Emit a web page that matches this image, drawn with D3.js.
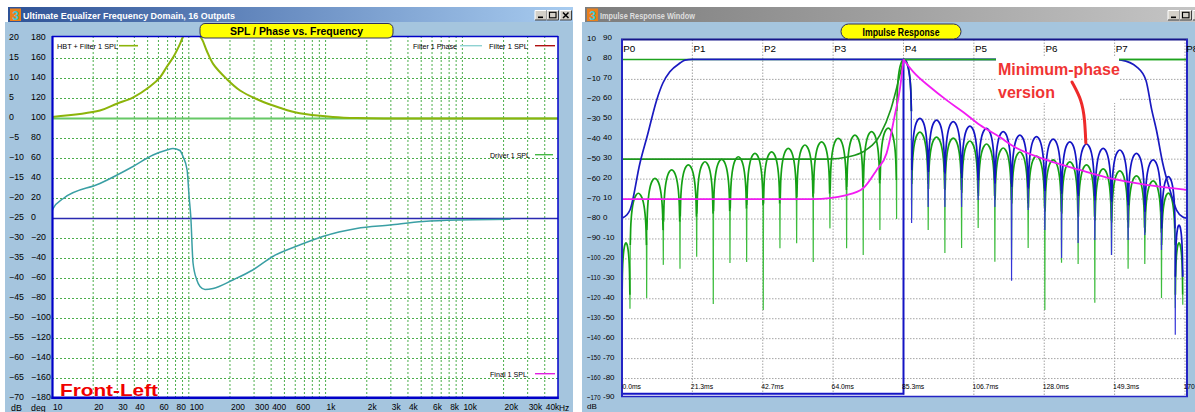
<!DOCTYPE html>
<html>
<head>
<meta charset="utf-8">
<title>SPL / Phase vs. Frequency and Impulse Response</title>
<script src="https://cdnjs.cloudflare.com/ajax/libs/d3/7.8.5/d3.min.js"></script>
<style>
  body { margin: 0; background: #ffffff; }
  svg { display: block; font-family: "Liberation Sans", Arial, sans-serif; }
</style>
</head>
<body>
<script>
// ---------- left window: SPL / Phase vs. Frequency ----------
var freqTickValues = [10, 20, 30, 40, 60, 80, 100, 200, 300, 400, 600, 1000, 2000, 3000, 4000, 6000, 8000, 10000, 20000, 30000, 40000];
var freqTickLabels = ["10", "20", "30", "40", "60", "80", "100", "200", "300", "400", "600", "1k", "2k", "3k", "4k", "6k", "8k", "10k", "20k", "30k", "40k"];
var dbTicks  = [20, 15, 10, 5, 0, -5, -10, -15, -20, -25, -30, -35, -40, -45, -50, -55, -60, -65, -70];
var degTicks = [180, 160, 140, 120, 100, 80, 60, 40, 20, 0, -20, -40, -60, -80, -100, -120, -140, -160, -180];

// HBT + Filter 1 SPL (dB)
var hbtFreq = [10, 22.4, 29.7, 39.3, 52, 61.6, 68.7, 76.9, 86.1, 91, 100, 110, 124, 135, 151, 189, 237, 331, 462, 647, 1130, 1700, 3000, 50000];
var hbtDb   = [0.4, 2.0, 3.7, 5.3, 8.0, 10.3, 12.8, 15.3, 18.6, 20.5, 22.5, 22.0, 20.0, 17.0, 13.6, 9.9, 7.0, 4.5, 2.7, 1.3, 0.4, 0.1, 0, 0];

// Filter 1 Phase (deg)
var phaseFreq = [10, 10.2, 12.1, 22.4, 39.1, 54.8, 69.1, 76.6, 86.1, 90.7, 97.2, 100.5, 103.4, 107.4, 114.5, 120.8, 131.4, 150.6, 209.7, 293.5, 410.8, 647, 953, 1684, 2954, 5167, 9134, 22500];
var phaseDeg  = [7, 10, 20, 35, 52, 63.5, 68.5, 70, 68, 62, 48.5, 22, 2, -44.5, -61.5, -68, -71, -70, -61.5, -51.5, -38, -26.5, -18, -10, -6.5, -3, -1.5, -0.8];

var driverDb = 0;     // Driver 1 SPL, flat
var zeroPhase = 0;

var legendNames  = ["HBT + Filter 1 SPL", "Filter 1 Phase", "Filter 1 SPL", "Driver 1 SPL", "Final 1 SPL"];
var legendColors = ["#8cb40a", "#8fd2d2", "#b01010", "#44b844", "#e020e0"];

// ---------- right window: Impulse Response ----------
var timeTicks = [0, 21.333, 42.667, 64, 85.333, 106.667, 128, 149.333, 170.667];
var markerNames = ["P0", "P1", "P2", "P3", "P4", "P5", "P6", "P7", "P8"];
var irDbTicks  = [10, 0, -10, -20, -30, -40, -50, -60, -70, -80, -90, -100, -110, -120, -130, -140, -150, -160, -170];
var irDb2Ticks = [90, 80, 70, 60, 50, 40, 30, 20, 10, 0, -10, -20, -30, -40, -50, -60, -70, -80, -90];

var peakMs = 85.333;

// window (blue)
var windowMs = [0, 1.42, 2.42, 5.45, 7.73, 10.5, 12.4, 14.5, 17.6, 19.1, 21.3, 149.3, 151.4, 156.0, 158.8, 160.6, 162.0, 163.9, 166.1, 168.1, 170.0, 171.2];
var windowDb = [-79.6, -78, -75.5, -51.9, -37.9, -20.4, -11.8, -6.2, -1.8, -0.3, 0, 0, -0.3, -3.7, -10.3, -25.4, -35.4, -51.9, -65.5, -75.5, -79, -79.6];

// ringing nulls (ms)
var nullMsPre  = [0, 2.42, 7.48, 12.52, 17.58, 22.64, 27.67, 32.73, 37.79, 42.82, 47.88, 52.94, 57.97, 63.03, 68.09, 73.12, 78.18, 83.24];
var nullMsPost = [87.79, 92.82, 97.88, 102.94, 107.97, 113.03, 118.09, 123.12, 128.18, 133.24, 138.27, 143.33, 148.39, 153.42, 158.48, 163.54, 167.72, 170.0];

// linear-phase impulse (green): lobe peaks and null depths
var greenPeakDb = [-92, -67.1, -59.6, -55.4, -52.9, -51.3, -50.1, -48.8, -47.1, -46.3, -44.6, -42.9, -41.3, -39.5, -37.9, -36.2, -34.4,
                   0,
                   -36.4, -38.9, -39.4, -40.9, -42.4, -44.4, -46.4, -48.4, -50.4, -51.4, -52.9, -54.9, -55.9, -58.4, -60.9, -67, -92];
var greenNullDb = [-172, -125, -119.6, -103, -105, -98.9, -122.6, -102, -101.6, -125.6, -94.7, -92.2, -101.6, -84.7, -94.7, -98, -85.5, -80,
                   -80, -85.5, -97, -94.5, -84.5, -101.4, -100, -94.5, -125.6, -101.9, -102.6, -122, -98, -105, -102.6, -119.6, -124.6, -123];

// minimum-phase impulse (blue): lobe peaks and null depths after P4
var bluePeakDb = [-29.5, -30.4, -31.2, -33.4, -34.5, -36.2, -37.9, -38.7, -40, -41.3, -42.4, -44.6, -45.4, -47.1, -50.4, -58.8, -83];
var blueNullDb = [-82, -74, -74, -74, -70.5, -74, -111, -75.5, -85.5, -99.6, -92, -90.5, -98, -90.5, -88, -95.5, -138, -105.6];
var bluePreDb = -167.6;

// envelopes
var envMs = [0, 62.6, 68.7, 73.1, 78.2, 81.5, 83.6, 85.333];
var envDb = [-50, -50, -48.8, -46.3, -37.9, -25, -12, 0];
var minPreMs = [0, 57.9, 68.1, 73.1, 77.2, 80.2, 82.7, 84.2, 85.333];
var minPreDb = [-70, -70, -68, -64.6, -55.4, -47.1, -27.9, -15.3, 0];
var minPostMs = [85.333, 88.3, 93.3, 98.4, 103.3, 108.5, 114.5, 118.5, 128.7, 138.8, 148.8, 159, 171.2];
var minPostDb = [0, -6.2, -13.7, -20.4, -26.2, -32.9, -38.9, -43.4, -50.4, -55.4, -59.9, -62.9, -65.4];

var noteLines = ["Minimum-phase", "version"];
var arrowMs = [136.4, 139.4, 140.3, 140.6];
var arrowDb = [-11.3, -20.4, -30.4, -41.9];

// ---------- drawing ----------
var W = 1195, H = 412;
var CLIENT = "#a5c5de";
var svg = d3.select("body").append("svg").attr("width", W).attr("height", H);
var defs = svg.append("defs");

function hGradient(id, from, to) {
  var g = defs.append("linearGradient").attr("id", id)
    .attr("x1", 0).attr("x2", 1).attr("y1", 0).attr("y2", 0);
  g.append("stop").attr("offset", 0).attr("stop-color", from);
  g.append("stop").attr("offset", 1).attr("stop-color", to);
}
hGradient("titleActive", "#2e5296", "#a8ccf0");
hGradient("titleInactive", "#7c7c7c", "#c6c6c6");

function clipRect(id, x, y, w, h) {
  defs.append("clipPath").attr("id", id).append("rect")
    .attr("x", x).attr("y", y).attr("width", w).attr("height", h);
}

function drawWindow(x0, x1, title, active, titleWidth) {
  svg.append("rect").attr("x", x0 - 3).attr("y", 22).attr("width", x1 - x0 + 3).attr("height", H - 22).attr("fill", CLIENT);
  svg.append("rect").attr("x", x0).attr("y", 7).attr("width", x1 - x0).attr("height", 15)
    .attr("fill", active ? "url(#titleActive)" : "url(#titleInactive)");
  svg.append("rect").attr("x", x0 + 2).attr("y", 8.5).attr("width", 11).attr("height", 12.5).attr("fill", "#e9801c");
  svg.append("text").attr("x", x0 + 7.5).attr("y", 19.5).attr("text-anchor", "middle")
    .attr("font-size", 12).attr("font-weight", "bold").attr("fill", "#3cc8d8").text("3");
  svg.append("text").attr("x", x0 + 15).attr("y", 18.5).attr("font-size", 9.5).attr("font-weight", "bold")
    .attr("fill", active ? "#ffffff" : "#dedede")
    .attr("textLength", titleWidth).attr("lengthAdjust", "spacingAndGlyphs").text(title);

  // min / max / close buttons
  var bx = x1 - 38;
  [0, 1, 2].forEach(function(i) {
    var x = bx + i * 12 + (i === 2 ? 1 : 0), y = 10.5;
    var b = svg.append("g");
    b.append("rect").attr("x", x).attr("y", y).attr("width", 11.5).attr("height", 9.5).attr("fill", "#d4d0c8");
    b.append("path").attr("d", "M" + x + "," + (y + 9.5) + "V" + y + "H" + (x + 11.5)).attr("stroke", "#fff").attr("fill", "none");
    b.append("path").attr("d", "M" + x + "," + (y + 9.5) + "H" + (x + 11.5) + "V" + y).attr("stroke", "#404040").attr("fill", "none");
    if (i === 0) b.append("rect").attr("x", x + 3).attr("y", y + 6).attr("width", 5).attr("height", 1.6).attr("fill", "#000");
    if (i === 1) b.append("rect").attr("x", x + 2.5).attr("y", y + 1.8).attr("width", 6.5).attr("height", 5.5)
      .attr("fill", "none").attr("stroke", "#000").attr("stroke-width", 1.1);
    if (i === 2) b.append("path").attr("d", "M" + (x + 3) + "," + (y + 2) + "L" + (x + 8.5) + "," + (y + 7.5) +
      "M" + (x + 8.5) + "," + (y + 2) + "L" + (x + 3) + "," + (y + 7.5)).attr("stroke", "#000").attr("stroke-width", 1.5);
  });
}

function tab(x, y, w, h, r, label, lw, size) {
  svg.append("rect").attr("x", x).attr("y", y).attr("width", w).attr("height", h).attr("rx", r)
    .attr("fill", "#ffff00").attr("stroke", "#30305a").attr("stroke-width", 1);
  svg.append("text").attr("x", x + w / 2).attr("y", y + h - 3.5).attr("text-anchor", "middle")
    .attr("font-size", size).attr("font-weight", "bold").attr("fill", "#000")
    .attr("textLength", lw).attr("lengthAdjust", "spacingAndGlyphs").text(label);
}

drawWindow(8, 573, "Ultimate Equalizer Frequency Domain, 16 Outputs", true, 212);
drawWindow(585, 1206, "Impulse Response Window", false, 95);

// ================= left chart =================
var L = { x0: 52, x1: 558, y0: 36, y1: 398.5 };
var xFreq = d3.scaleLog().domain([10, 50000]).range([L.x0, L.x1]);
var yDeg = d3.scaleLinear().domain([-180, 180]).range([398.5, 38.5]);
var yDb  = d3.scaleLinear().domain([-70, 20]).range([398.5, 38.5]);

svg.append("rect").attr("x", L.x0).attr("y", L.y0).attr("width", L.x1 - L.x0).attr("height", L.y1 - L.y0).attr("fill", "#fff");
clipRect("clipL", L.x0, L.y0, L.x1 - L.x0, L.y1 - L.y0);
var gl = svg.append("g").attr("clip-path", "url(#clipL)");

gl.selectAll(".vgrid").data(xFreq.ticks().filter(function(d) { return d > 10 && d < 50000; }))
  .enter().append("line").attr("class", "vgrid")
  .attr("x1", function(d) { return xFreq(d); }).attr("x2", function(d) { return xFreq(d); })
  .attr("y1", L.y0).attr("y2", L.y1)
  .attr("stroke", "#4cae4c").attr("stroke-width", 1).attr("stroke-dasharray", "2,2");
gl.selectAll(".hgrid").data(degTicks.filter(function(d) { return Math.abs(d) < 180; }))
  .enter().append("line").attr("class", "hgrid")
  .attr("x1", L.x0).attr("x2", L.x1)
  .attr("y1", function(d) { return yDeg(d); }).attr("y2", function(d) { return yDeg(d); })
  .attr("stroke", "#4cae4c").attr("stroke-width", 1).attr("stroke-dasharray", "2,2");

gl.append("line").attr("x1", L.x0).attr("x2", L.x1).attr("y1", yDb(driverDb)).attr("y2", yDb(driverDb))
  .attr("stroke", "#66c866").attr("stroke-width", 2);
gl.append("line").attr("x1", L.x0).attr("x2", L.x1).attr("y1", yDeg(zeroPhase)).attr("y2", yDeg(zeroPhase))
  .attr("stroke", "#2a2ab0").attr("stroke-width", 1.4);

var phaseLine = d3.line().curve(d3.curveMonotoneX)
  .x(function(d, i) { return xFreq(phaseFreq[i]); }).y(function(d) { return yDeg(d); });
gl.append("path").attr("d", phaseLine(phaseDeg)).attr("fill", "none")
  .attr("stroke", "#3a9fa4").attr("stroke-width", 1.5);

var hbtLine = d3.line().curve(d3.curveCatmullRom.alpha(0.5))
  .x(function(d, i) { return xFreq(hbtFreq[i]); }).y(function(d) { return yDb(d); });
gl.append("path").attr("d", hbtLine(hbtDb)).attr("fill", "none")
  .attr("stroke", "#8cb40a").attr("stroke-width", 2);

// frame
svg.append("line").attr("x1", L.x0).attr("x2", L.x1).attr("y1", 36.5).attr("y2", 36.5).attr("stroke", "#0000c8").attr("stroke-width", 1.5);
svg.append("line").attr("x1", 558).attr("x2", 558).attr("y1", 36).attr("y2", 399).attr("stroke", "#0000c8").attr("stroke-width", 1.5);
svg.append("line").attr("x1", 52.5).attr("x2", 52.5).attr("y1", 36).attr("y2", 399).attr("stroke", "#0000c8").attr("stroke-width", 2.2);
svg.append("line").attr("x1", 51.5).attr("x2", 558.5).attr("y1", 397.8).attr("y2", 397.8).attr("stroke", "#0000c8").attr("stroke-width", 2.6);

// legends
var legendPos = [[57, 48.5, 119, 138], [413, 48.5, 460, 482], [489, 48.5, 535, 555], [490, 157.5, 535, 553], [490, 376.5, 535, 555]];
var legendW = [61, 44, 39, 40, 37];
legendNames.forEach(function(n, i) {
  var p = legendPos[i];
  svg.append("text").attr("x", p[0]).attr("y", p[1]).attr("font-size", 7.5).attr("fill", "#000")
    .attr("textLength", legendW[i]).attr("lengthAdjust", "spacingAndGlyphs").text(n);
  svg.append("line").attr("x1", p[2]).attr("x2", p[3]).attr("y1", p[1] - 2.8).attr("y2", p[1] - 2.8)
    .attr("stroke", legendColors[i]).attr("stroke-width", i === 0 ? 1.6 : 1.4);
});

// axes labels (left)
var axDb = svg.append("g").attr("transform", "translate(9,0)")
  .call(d3.axisLeft(yDb).tickValues(dbTicks).tickSize(0).tickPadding(0));
axDb.select(".domain").remove();
axDb.selectAll("text").attr("x", 0).attr("y", -1.8).attr("text-anchor", "start")
  .attr("font-size", 8.8).attr("fill", "#000").attr("font-family", null);
var axDeg = svg.append("g").attr("transform", "translate(31,0)")
  .call(d3.axisLeft(yDeg).tickValues(degTicks).tickSize(0).tickPadding(0));
axDeg.select(".domain").remove();
axDeg.selectAll("text").attr("x", 0).attr("y", -1.8).attr("text-anchor", "start")
  .attr("font-size", 8.8).attr("fill", "#000").attr("font-family", null);

var axF = svg.append("g").attr("transform", "translate(0,404.5)")
  .call(d3.axisBottom(xFreq).tickValues(freqTickValues)
    .tickFormat(function(d, i) { return freqTickLabels[i]; }).tickSize(0).tickPadding(0));
axF.select(".domain").remove();
axF.selectAll("text").attr("text-anchor", "start").attr("dx", 0.5)
  .attr("font-size", 8.4).attr("fill", "#000").attr("font-family", null);
svg.append("text").attr("x", 559).attr("y", 411).attr("font-size", 8.4).text("Hz");
svg.append("text").attr("x", 11).attr("y", 411).attr("font-size", 8.8).text("dB");
svg.append("text").attr("x", 31).attr("y", 411).attr("font-size", 8.8).text("deg");

svg.append("text").attr("x", 60).attr("y", 395.5).attr("font-size", 17).attr("font-weight", "bold")
  .attr("fill", "#f00000").attr("textLength", 98).attr("lengthAdjust", "spacingAndGlyphs").text("Front-Left");

tab(200, 23.5, 193, 14.5, 5, "SPL / Phase vs. Frequency", 133, 11);

// ================= right chart =================
var R = { x0: 622, x1: 1187, y0: 39.5, y1: 396.5 };
var xMs = d3.scaleLinear().domain([0, 170.667]).range([622, 1185]);
var yIr = d3.scaleLinear().domain([-170, 10]).range([398.5, 39.5]);

svg.append("rect").attr("x", R.x0).attr("y", R.y0).attr("width", R.x1 - R.x0).attr("height", R.y1 - R.y0).attr("fill", "#fff");
clipRect("clipR", R.x0, R.y0, R.x1 - R.x0, R.y1 - R.y0);
clipRect("clipRpost", xMs(peakMs), R.y0, R.x1 - xMs(peakMs), R.y1 - R.y0);
var gr = svg.append("g").attr("clip-path", "url(#clipR)");

gr.selectAll(".vgrid").data(timeTicks.slice(1))
  .enter().append("line").attr("class", "vgrid")
  .attr("x1", function(d) { return xMs(d); }).attr("x2", function(d) { return xMs(d); })
  .attr("y1", R.y0).attr("y2", R.y1)
  .attr("stroke", "#9a9a9a").attr("stroke-width", 0.9).attr("stroke-dasharray", "1.5,1.5");
gr.selectAll(".hgrid").data(irDbTicks.filter(function(d) { return d < 0 && d > -170; }))
  .enter().append("line").attr("class", "hgrid")
  .attr("x1", R.x0).attr("x2", R.x1)
  .attr("y1", function(d) { return yIr(d); }).attr("y2", function(d) { return yIr(d); })
  .attr("stroke", "#9a9a9a").attr("stroke-width", 0.9).attr("stroke-dasharray", "1.5,1.5");

var irLine = d3.line().x(function(d) { return xMs(d[0]); }).y(function(d) { return yIr(d[1]); });
var irSmooth = d3.line().curve(d3.curveMonotoneX).x(function(d) { return xMs(d[0]); }).y(function(d) { return yIr(d[1]); });
function pairs(ts, vs) { return ts.map(function(t, i) { return [t, vs[i]]; }); }

// top 0 dB line
var topLine = [[0, 0], [171.5, 0]];
gr.append("path").attr("d", irLine(topLine)).attr("stroke", "#1ea21e").attr("stroke-width", 1.6).attr("fill", "none");

// lobe shape (fraction across a lobe, dB below its peak)
var ARCH_SHAPE = [[0.015, -26], [0.04, -18], [0.08, -12], [0.13, -8], [0.2, -4.6], [0.28, -2.3], [0.38, -0.7], [0.5, 0],
                  [0.62, -0.7], [0.72, -2.3], [0.8, -4.6], [0.87, -8], [0.92, -12], [0.96, -18], [0.985, -26]];

function buildLobes(nulls, peaks, depths) {
  var arches = peaks.map(function(p, i) {
    var t0 = nulls[i], w = nulls[i + 1] - t0;
    return ARCH_SHAPE.map(function(a) { return [t0 + a[0] * w, p + a[1]]; });
  });
  var spikes = [];
  nulls.forEach(function(t, j) {
    if (depths[j] == null) return;
    var s = [];
    if (j > 0) s.push(arches[j - 1][arches[j - 1].length - 1]);
    s.push([t, depths[j]]);
    if (j < arches.length) s.push(arches[j][0]);
    spikes.push(s);
  });
  return { arches: arches, spikes: spikes };
}

// green (linear phase)
var green = buildLobes(nullMsPre.concat(nullMsPost), greenPeakDb, greenNullDb);
gr.append("path").attr("d", green.spikes.map(irLine).join("")).attr("fill", "none")
  .attr("stroke", "#3cbc3c").attr("stroke-width", 1.2);
gr.append("path").attr("d", green.arches.map(irSmooth).join("")).attr("fill", "none")
  .attr("stroke", "#14a014").attr("stroke-width", 1.7);
gr.append("path").attr("d", irSmooth(pairs(envMs, envDb))).attr("fill", "none")
  .attr("stroke", "#1c961c").attr("stroke-width", 1.6);

// blue (minimum phase)
var blueNulls = [peakMs - (nullMsPost[0] - peakMs)].concat(nullMsPost);
var blue = buildLobes(blueNulls, [0].concat(bluePeakDb), [null].concat(blueNullDb));
blue.arches[0] = blue.arches[0].filter(function(p) { return p[0] >= peakMs; });
blue.arches[0].unshift([peakMs, 0]);
gr.append("path").attr("d", irLine([[0, bluePreDb], [peakMs, bluePreDb], [peakMs, 0]])).attr("fill", "none")
  .attr("stroke", "#1414c4").attr("stroke-width", 2);
gr.append("path").attr("d", blue.spikes.map(irLine).join("")).attr("fill", "none")
  .attr("stroke", "#3434d8").attr("stroke-width", 1.2);
gr.append("path").attr("d", blue.arches.map(irSmooth).join("")).attr("fill", "none")
  .attr("stroke", "#1414c4").attr("stroke-width", 1.7);

// window
gr.append("path").attr("d", irSmooth(pairs(windowMs, windowDb))).attr("fill", "none")
  .attr("stroke", "#1a1ac0").attr("stroke-width", 1.7);
gr.append("path").attr("d", irLine(topLine)).attr("clip-path", "url(#clipRpost)")
  .attr("stroke", "#1ea21e").attr("stroke-width", 1.6).attr("fill", "none");

// minimum-phase envelope (magenta)
gr.append("path").attr("d", irSmooth(pairs(minPreMs, minPreDb))).attr("fill", "none")
  .attr("stroke", "#f21cf2").attr("stroke-width", 1.8);
gr.append("path").attr("d", irSmooth(pairs(minPostMs, minPostDb))).attr("fill", "none")
  .attr("stroke", "#f21cf2").attr("stroke-width", 1.8);

// annotation
gr.append("rect").attr("x", 996).attr("y", 56).attr("width", 123).attr("height", 47).attr("fill", "#fff");
noteLines.forEach(function(s, i) {
  gr.append("text").attr("x", 998).attr("y", 74.5 + i * 23.5).attr("font-size", 16).attr("font-weight", "bold")
    .attr("fill", "#f03434").text(s);
});
gr.append("path").attr("d", d3.line().curve(d3.curveBasis)
    .x(function(d) { return xMs(d[0]); }).y(function(d) { return yIr(d[1]); })(pairs(arrowMs, arrowDb)))
  .attr("fill", "none").attr("stroke", "#ee2a2a").attr("stroke-width", 3).attr("stroke-linecap", "round");

// frame
svg.append("line").attr("x1", 621).attr("x2", 1188).attr("y1", 39.5).attr("y2", 39.5).attr("stroke", "#16168a").attr("stroke-width", 2);
svg.append("line").attr("x1", 622).attr("x2", 622).attr("y1", 39).attr("y2", 397).attr("stroke", "#2424c4").attr("stroke-width", 2);
svg.append("line").attr("x1", 1187).attr("x2", 1187).attr("y1", 39).attr("y2", 397).attr("stroke", "#2424c4").attr("stroke-width", 2);
svg.append("line").attr("x1", 621).attr("x2", 1188).attr("y1", 396.5).attr("y2", 396.5).attr("stroke", "#2424c4").attr("stroke-width", 1.5);

// markers and time labels
svg.selectAll(".pmark").data(markerNames).enter().append("text").attr("class", "pmark")
  .attr("x", function(d, i) { return xMs(timeTicks[i]) + 1.2; }).attr("y", 52)
  .attr("font-size", 9.8).attr("fill", "#000").text(function(d) { return d; });
var fmt = d3.format(".1f");
svg.selectAll(".tlab").data(timeTicks).enter().append("text").attr("class", "tlab")
  .attr("x", function(d, i) { return i === 0 ? 622.5 : xMs(d) - 1.5; }).attr("y", 388.5)
  .attr("font-size", 6.8).attr("fill", "#000").text(function(d) { return fmt(d) + "ms"; });

// y labels (right), narrow column like the original
var axIr = svg.append("g").attr("transform", "translate(587,0)")
  .call(d3.axisLeft(yIr).tickValues(irDbTicks).tickSize(0).tickPadding(0));
axIr.select(".domain").remove();
axIr.selectAll("text").attr("x", 0).attr("y", -1.6).attr("text-anchor", "start")
  .attr("font-size", 8).attr("fill", "#000").attr("font-family", null)
  .each(function(d) {
    var s = String(d);
    if (s.length >= 4) d3.select(this).attr("textLength", 13.5).attr("lengthAdjust", "spacingAndGlyphs");
  });
svg.selectAll(".ir2").data(irDb2Ticks).enter().append("text").attr("class", "ir2")
  .attr("x", 603).attr("y", function(d, i) { return yIr(irDbTicks[i]) - 1.6; }).attr("dy", "0.32em")
  .attr("font-size", 8).attr("fill", "#000").text(function(d) { return d; });
svg.append("text").attr("x", 587).attr("y", 409).attr("font-size", 8).text("dB");

tab(841, 24, 120, 15, 7.5, "Impulse Response", 77, 10.5);
</script>
</body>
</html>
